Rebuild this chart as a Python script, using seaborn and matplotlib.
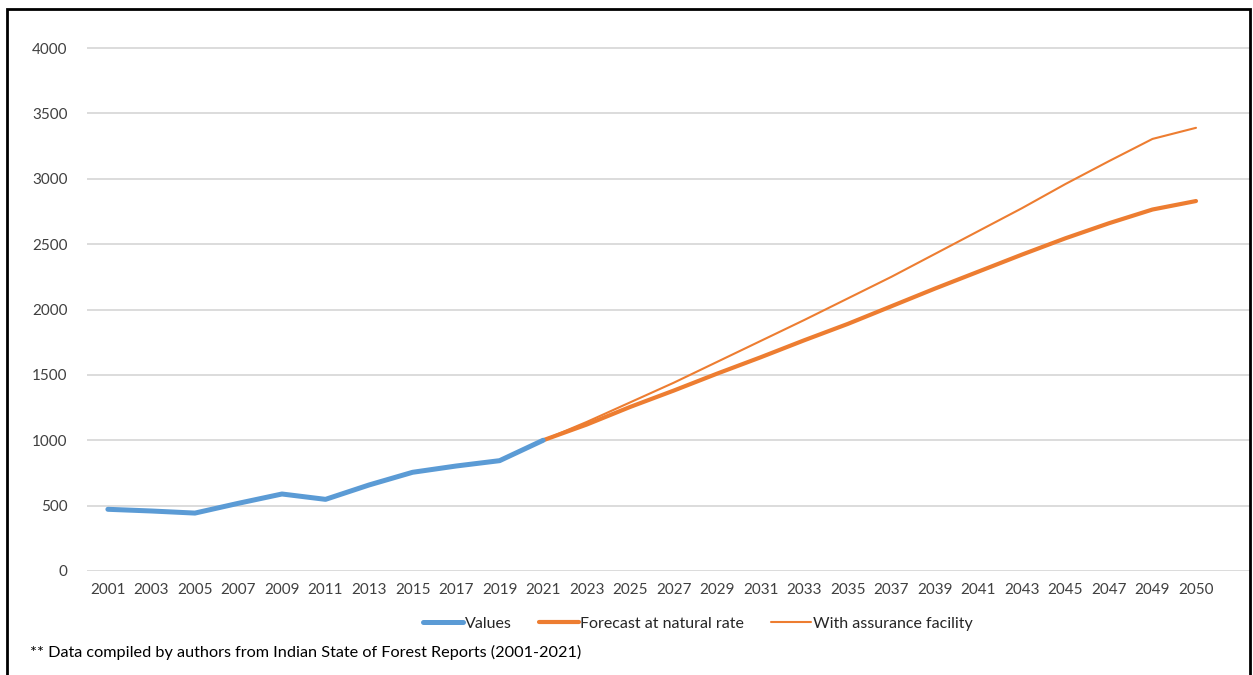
import numpy as np
import pandas as pd
import matplotlib
matplotlib.use("Agg")
import matplotlib.pyplot as plt
import seaborn as sns
from matplotlib.lines import Line2D
from matplotlib.patches import Rectangle

years = ["2001", "2003", "2005", "2007", "2009", "2011", "2013", "2015", "2017",
         "2019", "2021", "2023", "2025", "2027", "2029", "2031", "2033", "2035",
         "2037", "2039", "2041", "2043", "2045", "2047", "2049", "2050"]
values = [472, 459, 443, 518, 589, 548, 658, 755, 803, 844, 1000] + [np.nan] * 15
forecast_natural = [np.nan] * 10 + [1000, 1120, 1255, 1380, 1510, 1635, 1765, 1890,
                                    2025, 2160, 2290, 2420, 2545, 2660, 2765, 2830]
with_assurance = [np.nan] * 10 + [1000, 1140, 1290, 1440, 1600, 1760, 1920, 2085,
                                  2250, 2425, 2600, 2775, 2960, 3135, 3305, 3390]
y_ticks = [0, 500, 1000, 1500, 2000, 2500, 3000, 3500, 4000]
series_names = ["Values", "Forecast at natural rate", "With assurance facility"]
footnote = "** Data compiled by authors from Indian State of Forest Reports (2001-2021)"

blue = "#5B9BD5"
orange = "#ED7D31"

sns.set_theme(style="white")
plt.rcParams["font.family"] = ["Lato", "DejaVu Sans"]

df = pd.DataFrame({
    "idx": np.arange(len(years)),
    "year": years,
    "Values": values,
    "Forecast at natural rate": forecast_natural,
    "With assurance facility": with_assurance,
})

fig = plt.figure(figsize=(12.53, 6.75), dpi=100)
ax = fig.add_axes([87 / 1253, 1 - 571 / 675, (1250 - 87) / 1253, (571 - 35) / 675])

sns.lineplot(data=df, x="idx", y="With assurance facility", ax=ax, color=orange,
             linewidth=1.5, zorder=3)
sns.lineplot(data=df, x="idx", y="Forecast at natural rate", ax=ax, color=orange,
             linewidth=3.0, zorder=4)
sns.lineplot(data=df, x="idx", y="Values", ax=ax, color=blue, linewidth=3.6, zorder=5)

ax.set_ylim(0, 4100)
ax.set_xlim(-0.48, len(years) - 1 + 54 / 43.52)
ax.set_yticks(y_ticks)
ax.set_yticklabels([str(t) for t in y_ticks])
ax.set_xticks(np.arange(len(years)))
ax.set_xticklabels(years)
ax.set_xlabel("")
ax.set_ylabel("")
for s in ax.spines.values():
    s.set_visible(False)
ax.grid(axis="y", color="#D9D9D9", linewidth=1.3)
ax.grid(axis="x", visible=False)
ax.set_axisbelow(True)
ax.tick_params(axis="y", length=0, pad=14, labelsize=11, labelcolor="#404040")
ax.tick_params(axis="x", length=0, pad=9, labelsize=11, labelcolor="#404040")

handles = [
    Line2D([0], [0], color=blue, linewidth=3.6),
    Line2D([0], [0], color=orange, linewidth=3.0),
    Line2D([0], [0], color=orange, linewidth=1.5),
]
fig.legend(handles, series_names, loc="center", bbox_to_anchor=(698 / 1253, 1 - 624 / 675),
           ncol=3, frameon=False, fontsize=11.5, handlelength=2.5, columnspacing=1.7,
           handletextpad=0.1, labelcolor="#262626")

fig.text(30 / 1253, 1 - 652 / 675, footnote, fontsize=11.7, color="black",
         va="center", ha="left")

fig.patches.append(Rectangle((7 / 1253, -0.05), (1250 - 7) / 1253, 1.05 - 9 / 675,
                             transform=fig.transFigure, fill=False, edgecolor="black",
                             linewidth=2.0))

fig.savefig("out.png", dpi=100)
